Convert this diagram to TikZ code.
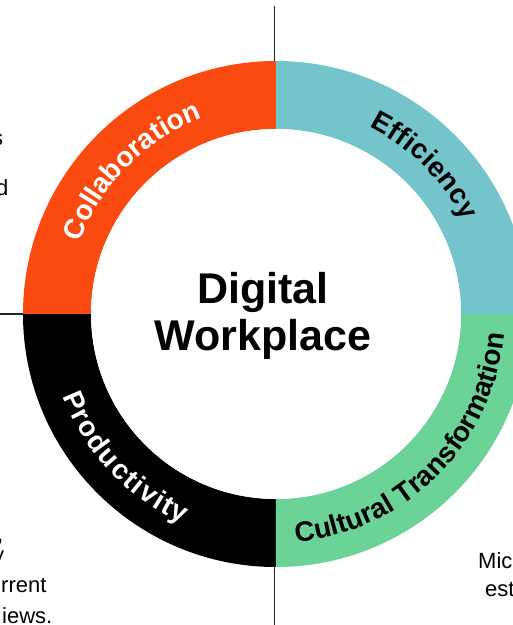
\documentclass[tikz,border=0pt]{standalone}
\usepackage{fontspec}
\setmainfont{Liberation Sans}
\usetikzlibrary{decorations.text}

\definecolor{collab}{HTML}{FA4A10}
\definecolor{effic}{HTML}{74C4CC}
\definecolor{cultur}{HTML}{6BD397}
\definecolor{axisgray}{HTML}{222222}

\newcommand\ringfont{\bfseries\fontsize{28}{28}\selectfont}

\begin{document}
\begin{tikzpicture}[x=1pt,y=1pt,
  axis/.style={draw=axisgray, line width=1.1pt},
  ringlabel/.style={decorate, decoration={text along path, text align=fit to path, text={#1}}},
  title/.style={font=\bfseries\fontsize{43}{43}\selectfont, anchor=base, inner sep=0pt},
  side/.style={font=\fontsize{22}{22}\selectfont, anchor=base west, inner sep=0pt},
]
\useasboundingbox (-276,-311) rectangle (237,314);
\clip (-276,-311) rectangle (237,314);

% axes behind the ring
\coordinate (axTop) at (-1.5,308);
\coordinate (axBot) at (-1.5,-320);
\coordinate (axLeft) at (-290,0);
\coordinate (axRight) at (250,0);
\draw[axis] (axTop) -- (axBot);
\draw[axis] (axLeft) -- (axRight);

% four quadrants of the ring
\def\Ro{253}
\def\Ri{185}
\fill[collab] (90:\Ro) arc[start angle=90,end angle=180,radius=\Ro] -- (180:\Ri) arc[start angle=180,end angle=90,radius=\Ri] -- cycle;
\fill[effic] (0:\Ro) arc[start angle=0,end angle=90,radius=\Ro] -- (90:\Ri) arc[start angle=90,end angle=0,radius=\Ri] -- cycle;
\fill[black] (180:\Ro) arc[start angle=180,end angle=270,radius=\Ro] -- (270:\Ri) arc[start angle=270,end angle=180,radius=\Ri] -- cycle;
\fill[cultur] (270:\Ro) arc[start angle=270,end angle=360,radius=\Ro] -- (360:\Ri) arc[start angle=360,end angle=270,radius=\Ri] -- cycle;
\fill[white] (0,0) circle (\Ri);

% centre title
\node[title] (t1) at (-13,11) {Digital};
\node[title] (t2) at (-13,-36) {Workplace};

% curved labels
\path[ringlabel={|\ringfont\color{white}|Collaboration}] (160:209) arc[start angle=160,end angle=112,radius=209];
\path[ringlabel={|\ringfont\color{black}|Efficiency}] (63.5:209) arc[start angle=63.5,end angle=26.5,radius=209];
\path[ringlabel={|\ringfont\color{white}|Productivity}] (201:229) arc[start angle=201,end angle=246,radius=229];
\path[ringlabel={|\ringfont\color{black}|Cultural Transformation}] (275:229) arc[start angle=275,end angle=355,radius=229];

% surrounding paragraph fragments
\node[side] (s1) at (-284,169) {s};
\node[side] (s2) at (-280,119) {d};
\node[side] (s3) at (-279,-227) {,};
\node[side] (s4) at (-283,-248) {y};
\node[side] (s5) at (-275,-278) {rrent};
\node[side] (s6) at (-274,-309) {iews.};
\node[side] (s7) at (202,-254) {Mic};
\node[side] (s8) at (209,-282) {est};
\end{tikzpicture}
\end{document}
